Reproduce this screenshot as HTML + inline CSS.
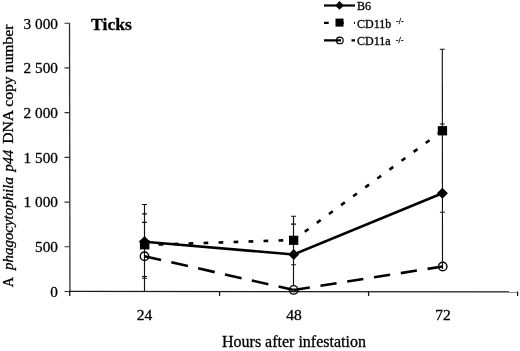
<!DOCTYPE html>
<html><head><meta charset="utf-8"><style>
html,body{margin:0;padding:0;background:#fff;width:520px;height:351px;overflow:hidden}
svg{display:block}
text{font-family:"Liberation Serif",serif;fill:#000;stroke:#000;stroke-width:0.3}
</style></head><body>
<svg width="520" height="351" viewBox="0 0 520 351" style="filter:grayscale(1) blur(0.3px)">
<rect width="520" height="351" fill="#fff"/>
<!-- axes -->
<g stroke="#1a1a1a" stroke-width="1.3" fill="none">
<path d="M69.5 23L69.95 291.5" stroke="#2e2e2e"/>
<path d="M64.5 23.2H69.7M64.5 67.9H69.7M64.5 112.6H69.7M64.5 157.4H69.7M64.5 202.1H69.7M64.5 246.8H69.7M64.5 291.5H69.7" stroke-width="1.1" stroke="#333"/>
<path d="M69 291.3L518 291.95"/>
<path d="M69.7 291.5V296M219.6 291.5V296M368.6 291.5V296M517.6 291.5V296"/>
</g>
<!-- y labels -->
<g font-size="15.3" text-anchor="end">
<text x="58" y="28.6">3 000</text>
<text x="58" y="73.3">2 500</text>
<text x="58" y="118">2 000</text>
<text x="58" y="162.7">1 500</text>
<text x="58" y="207.4">1 000</text>
<text x="58" y="252.1">500</text>
<text x="58" y="296.8">0</text>
</g>
<!-- x labels -->
<g font-size="15.5" text-anchor="middle">
<text x="144.5" y="319.8">24</text>
<text x="294" y="319.8">48</text>
<text x="443" y="319.8">72</text>
</g>
<text x="222" y="346.8" font-size="16">Hours after infestation</text>
<g font-size="15">
<text transform="translate(13.2 287.24) rotate(-90)" textLength="10.24" lengthAdjust="spacingAndGlyphs">A</text>
<text transform="translate(13.2 269.93) rotate(-90)" font-style="italic" textLength="92.79" lengthAdjust="spacingAndGlyphs">phagocytophila</text>
<text transform="translate(13.2 171.46) rotate(-90)" font-style="italic" textLength="21.58" lengthAdjust="spacingAndGlyphs">p44</text>
<text transform="translate(13.2 143.85) rotate(-90)" font-size="15.6" textLength="119.38" lengthAdjust="spacingAndGlyphs">DNA copy number</text>
</g>
<text x="91" y="30" font-size="17.7" font-weight="bold">Ticks</text>

<!-- error bars -->
<g stroke="#111" stroke-width="1.15" fill="none">
<path d="M144.5 204.5V291"/>
<path d="M142 204.5H147M142 213.8H147M142 222.4H147M142 276.5H147M142 278.2H147"/>
<path d="M293.5 216.2V285.5"/>
<path d="M291 216.2H296M291 224.1H296M291.2 264.7H295.9"/>
<path d="M442.3 49.2L442.5 269"/>
<path d="M439.8 49.2H444.8M439.8 124H444.8M439.9 212.2H444.9"/>
</g>

<!-- series lines -->
<g fill="none" stroke="#000" stroke-width="2.6">
<path d="M144.5 241.7L293.7 254.5L442.4 193.2"/>
<path d="M144.6 245L293.5 240" stroke-dasharray="4.7 10.3" stroke-dashoffset="1"/>
<path d="M293.5 240L442.4 130.8" stroke-dasharray="4.7 10.3" stroke-dashoffset="1"/>
<path d="M144.5 256.2L293.7 290" stroke-dasharray="17 10.5"/>
<path d="M293.7 290L442.7 266.5" stroke-dasharray="16.3 10.8"/>
</g>

<!-- markers -->
<g fill="#000">
<rect x="139.9" y="240.2" width="9.5" height="9.2"/>
<rect x="289" y="235.7" width="9.3" height="9.2"/>
<rect x="437.8" y="126.1" width="9.3" height="9.3"/>
<path d="M144.5 236.10L150.10 241.7L144.5 247.30L138.90 241.7Z"/>
<path d="M293.7 249.10L299.10 254.5L293.7 259.90L288.30 254.5Z"/>
<path d="M442.4 187.70L447.90 193.2L442.4 198.70L436.90 193.2Z"/>
</g>
<g fill="none" stroke="#000" stroke-width="1.4">
<circle cx="144.5" cy="256.2" r="4.25"/>
<circle cx="293.7" cy="289.9" r="4.25"/>
<circle cx="442.7" cy="266.5" r="4.25"/>
</g>

<!-- legend -->
<g fill="none" stroke="#000" stroke-width="2.2">
<path d="M324 5.5H355"/>
<path d="M324 22.8H355" stroke-dasharray="4.7 10.3"/>
<path d="M324 40.4H355" stroke-dasharray="17 10.5"/>
</g>
<path d="M339.5 1.1L343.8 5.5L339.5 9.8L335.2 5.5Z" fill="#000"/>
<rect x="335.5" y="18.6" width="8" height="8" fill="#000"/>
<circle cx="339.8" cy="40.4" r="3.35" fill="none" stroke="#000" stroke-width="1.2"/>
<g font-size="12">
<text x="357" y="10.2">B6</text>
<text x="357" y="27.6">CD11b</text>
<text x="396" y="24.2" font-size="8">-/-</text>
<text x="357" y="44.9">CD11a</text>
<text x="395.8" y="42.7" font-size="8">-/-</text>
</g>
</svg>
</body></html>
